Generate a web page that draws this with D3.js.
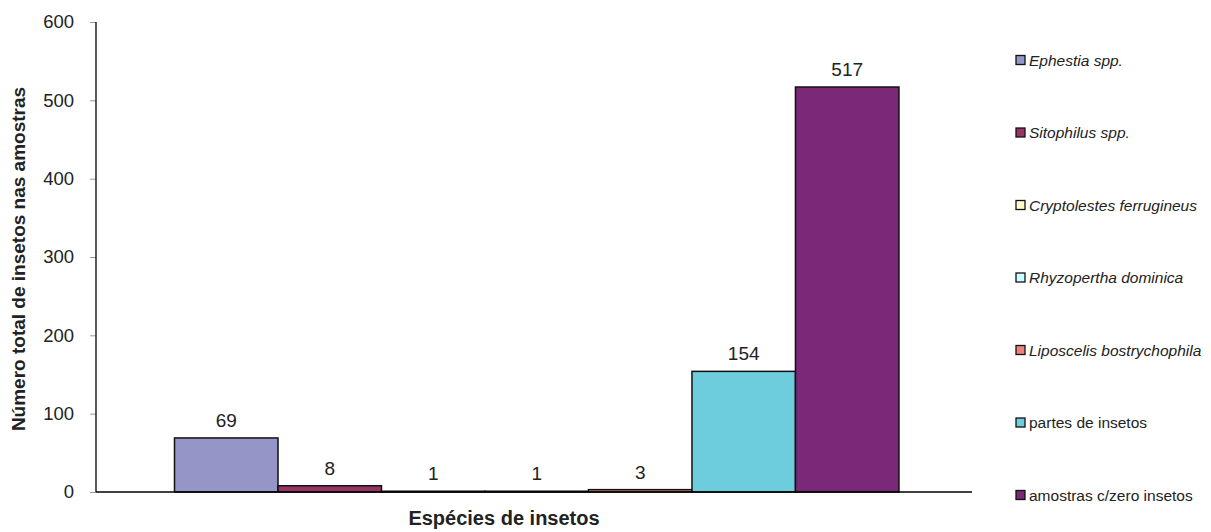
<!DOCTYPE html>
<html>
<head>
<meta charset="utf-8">
<script src="https://cdn.jsdelivr.net/npm/d3@7"></script>
<style>
  body { margin: 0; background: #fff; }
  svg text { font-family: "Liberation Sans", Arial, sans-serif; fill: #222; }
</style>
</head>
<body>
<svg id="chart" width="1211" height="532"></svg>
<script>
const series = ["Ephestia spp.", "Sitophilus spp.", "Cryptolestes ferrugineus", "Rhyzopertha dominica",
  "Liposcelis bostrychophila", "partes de insetos", "amostras c/zero insetos"];
const values = [69, 8, 1, 1, 3, 154, 517];
const colors = ["#9595c7", "#993366", "#ffffcc", "#ccffff", "#f08080", "#6dcddc", "#7c2879"];
const italic = [true, true, true, true, true, false, false];
const yTicks = [0, 100, 200, 300, 400, 500, 600];

const svg = d3.select("#chart");
const plotLeft = 96, plotRight = 972, plotTop = 22, plotBottom = 492;

const y = d3.scaleLinear().domain([0, 600]).range([plotBottom, plotTop]);

// one category, seven series side by side
const x0 = d3.scaleBand().domain(["Espécies de insetos"]).range([plotLeft, plotRight])
  .paddingInner(0).paddingOuter(0.1046).align(0.518);
const x1 = d3.scaleBand().domain(series).range([0, x0.bandwidth()]);

const g = svg.append("g").attr("transform", `translate(${x0("Espécies de insetos")},0)`);

g.selectAll("rect.bar")
  .data(values)
  .join("rect")
  .attr("class", "bar")
  .attr("x", (d, i) => x1(series[i]))
  .attr("y", d => y(d))
  .attr("width", x1.bandwidth())
  .attr("height", d => plotBottom - y(d))
  .attr("fill", (d, i) => colors[i])
  .attr("stroke", "#111")
  .attr("stroke-width", 1.5);

g.selectAll("text.val")
  .data(values)
  .join("text")
  .attr("class", "val")
  .attr("x", (d, i) => x1(series[i]) + x1.bandwidth() / 2)
  .attr("y", d => y(d) - 11)
  .attr("text-anchor", "middle")
  .attr("font-size", 19)
  .text(d => d);

// y axis
const yAxis = d3.axisLeft(y).tickValues(yTicks).tickSize(6).tickPadding(16);
const ya = svg.append("g").attr("transform", `translate(${plotLeft},0)`).call(yAxis);
ya.select(".domain").remove();
ya.selectAll(".tick line").attr("stroke", "#999");
ya.selectAll(".tick text").attr("font-size", 18.5).attr("fill", "#222")
  .style("font-family", "'Liberation Sans', Arial, sans-serif");

svg.append("line").attr("x1", plotLeft).attr("x2", plotLeft).attr("y1", plotTop).attr("y2", plotBottom)
  .attr("stroke", "#000").attr("stroke-width", 1.3);
svg.append("line").attr("x1", plotLeft).attr("x2", plotRight).attr("y1", plotBottom).attr("y2", plotBottom)
  .attr("stroke", "#000").attr("stroke-width", 1.3);

// titles
svg.append("text")
  .attr("transform", `translate(25,${(plotTop + plotBottom) / 2 + 2}) rotate(-90)`)
  .attr("text-anchor", "middle")
  .attr("font-size", 19)
  .attr("font-weight", "bold")
  .text("Número total de insetos nas amostras");

svg.append("text")
  .attr("x", 504).attr("y", 525)
  .attr("text-anchor", "middle")
  .attr("font-size", 20)
  .attr("font-weight", "bold")
  .text("Espécies de insetos");

// legend
const legend = svg.append("g").attr("transform", "translate(1016,0)");
const ly = d3.scalePoint().domain(series).range([60, 495]);
const item = legend.selectAll("g").data(series).join("g")
  .attr("transform", d => `translate(0,${ly(d)})`);
item.append("rect")
  .attr("x", 0).attr("y", -4.5).attr("width", 9).attr("height", 9)
  .attr("fill", (d, i) => colors[i])
  .attr("stroke", "#111").attr("stroke-width", 1.3);
item.append("text")
  .attr("x", 13).attr("y", 5.5)
  .attr("font-size", 15.5)
  .attr("font-style", (d, i) => italic[i] ? "italic" : "normal")
  .text(d => d);
</script>
</body>
</html>
